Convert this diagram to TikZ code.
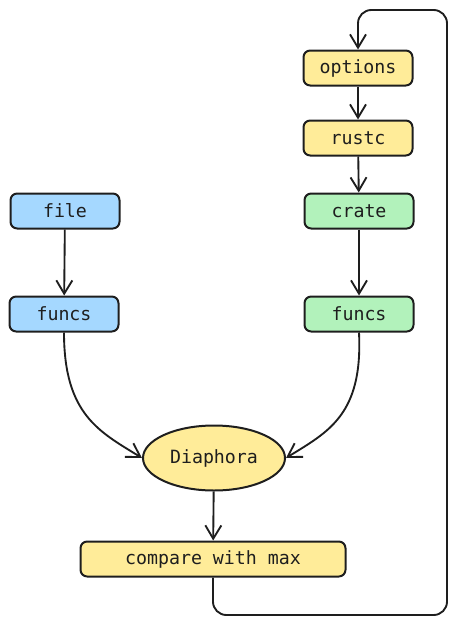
\documentclass[tikz,border=0pt]{standalone}
\usepackage{fontspec}
\setmonofont{DejaVu Sans Mono}
\usetikzlibrary{positioning, arrows.meta, shapes.geometric}
\definecolor{sunny}{HTML}{FFEC99}
\definecolor{sky}{HTML}{A5D8FF}
\definecolor{mint}{HTML}{B2F2BB}
\definecolor{ink}{HTML}{1E1E1E}
\tikzset{
  box/.style={draw=ink, line width=1.5pt, rounded corners=5pt, minimum width=81.75pt,
    minimum height=26.25pt, inner sep=0pt, text=ink, font=\ttfamily\fontsize{13.7}{16}\selectfont},
  flow/.style={draw=ink, line width=1.4pt, -{Straight Barb[length=10pt, width=12pt, line width=1.4pt]}},
}

\begin{document}
\begin{tikzpicture}[x=0.75pt, y=-0.75pt]
\useasboundingbox (0,0) rectangle (463,628);
% right column
\node[box, fill=sunny] (options) at (358,68) {options};
\node[box, fill=sunny] (rustc) at (358,138) {rustc};
\node[box, fill=mint] (crate) at (359,211) {crate};
\node[box, fill=mint] (funcsR) at (359,314) {funcs};
% left column
\node[box, fill=sky] (file) at (65,211) {file};
\node[box, fill=sky] (funcsL) at (64,314) {funcs};
% bottom
\node[box, fill=sunny, ellipse, rounded corners=0pt, minimum width=106.5pt, minimum height=48.75pt] (diaphora) at (214,458) {Diaphora};
\node[box, fill=sunny, minimum width=198.75pt] (compare) at (213,559) {compare with max};
\coordinate (loopA) at (447,615);
\coordinate (loopB) at (447,10);

\draw[flow] (options) -- (rustc);
\draw[flow] (rustc) -- (crate);
\draw[flow] (crate) -- (funcsR);
\draw[flow] (file) -- (funcsL);
\draw[flow] (funcsL.south) .. controls (64,415) and (100,432) .. (diaphora.west);
\draw[flow] (funcsR.south) .. controls (363,415) and (328,432) .. (diaphora.east);
\draw[flow] (diaphora) -- (compare);
\draw[flow, rounded corners=10pt] (compare.south) |- (loopA) -- (loopB) -| (options.north);
\end{tikzpicture}
\end{document}
